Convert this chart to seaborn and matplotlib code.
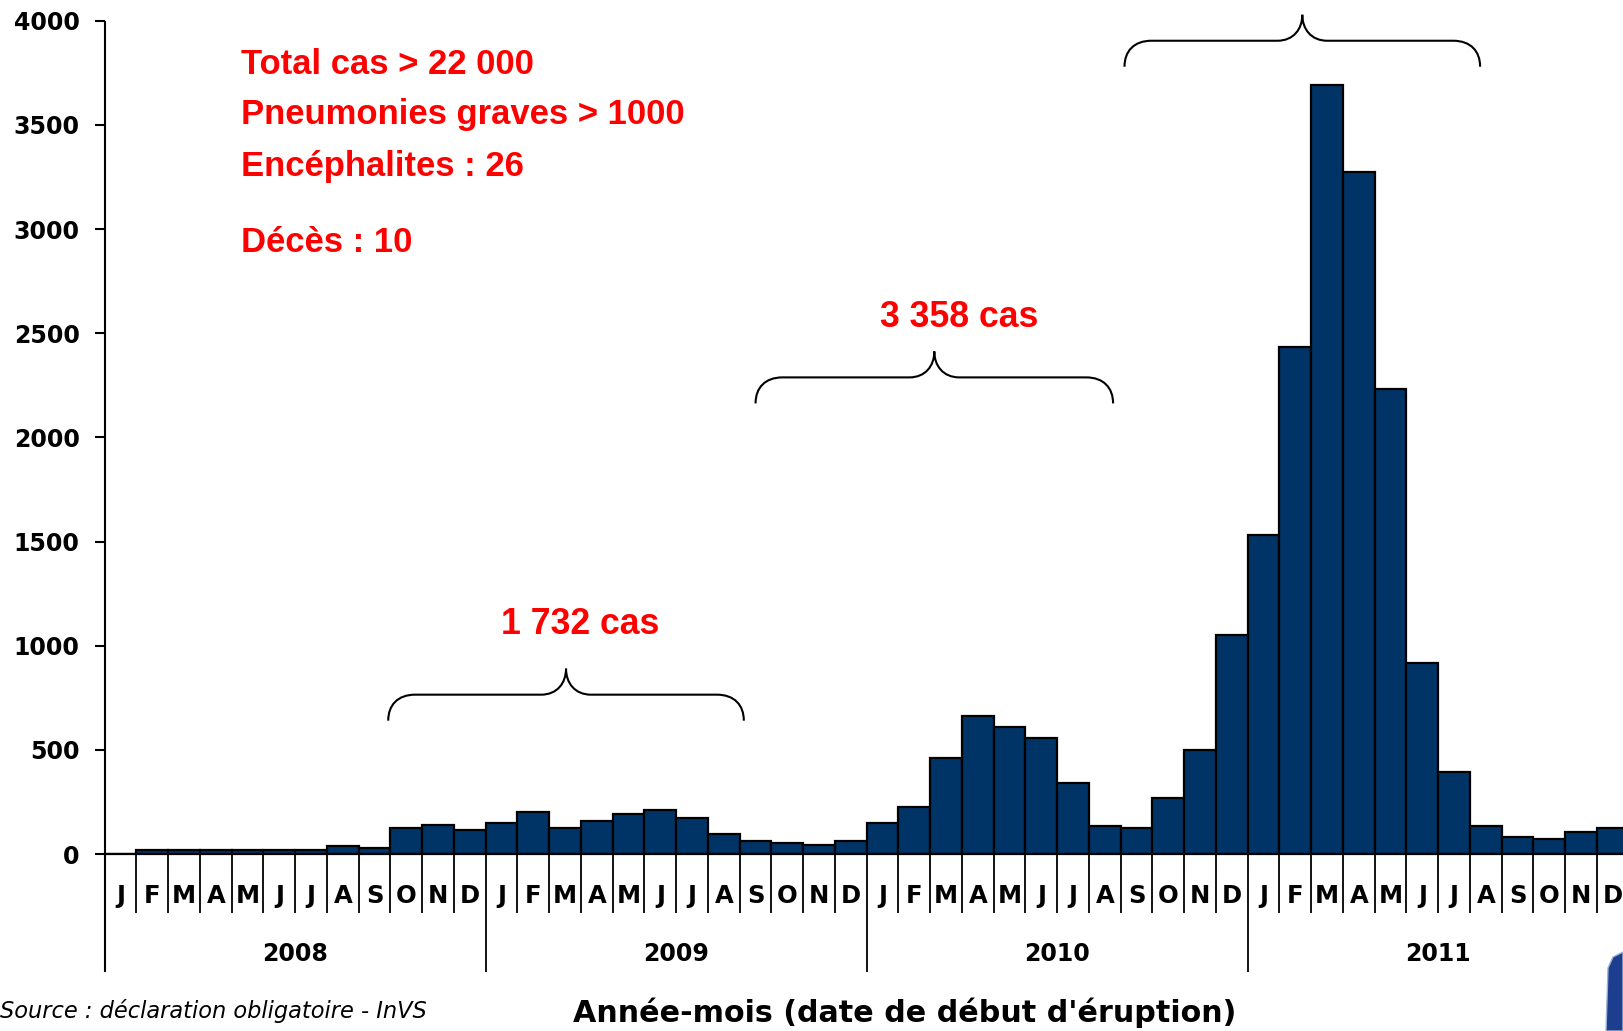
import matplotlib
matplotlib.use("Agg")
import matplotlib.pyplot as plt
from matplotlib.path import Path
from matplotlib.patches import PathPatch, Polygon
from matplotlib import font_manager
import pandas as pd
import seaborn as sns

# Monthly measles case counts by month of rash onset, Jan 2008 - Dec 2011
years = ["2008", "2009", "2010", "2011"]
month_letters = ["J", "F", "M", "A", "M", "J", "J", "A", "S", "O", "N", "D"]
cases_2008 = [0, 20, 20, 20, 20, 20, 20, 40, 30, 126, 138, 115]
cases_2009 = [149, 200, 126, 158, 190, 213, 171, 96, 62, 51, 42, 62]
cases_2010 = [149, 224, 459, 662, 610, 555, 340, 136, 126, 267, 501, 1049]
cases_2011 = [1533, 2434, 3690, 3273, 2232, 915, 395, 136, 83, 72, 104, 126]

y_ticks = [0, 500, 1000, 1500, 2000, 2500, 3000, 3500, 4000]
summary_lines = ["Total cas > 22 000", "Pneumonies graves > 1000",
                 "Encéphalites : 26", "Décès : 10"]
wave_labels = ["1 732 cas", "3 358 cas"]
x_title = "Année-mois (date de début d'éruption)"
source_note = "Source : déclaration obligatoire - InVS"

all_cases = cases_2008 + cases_2009 + cases_2010 + cases_2011
df = pd.DataFrame({
    "mois": [f"{y}-{m:02d}" for y in years for m in range(1, 13)],
    "lettre": month_letters * len(years),
    "cas": all_cases,
})

sns.set_theme(style="white")
plt.rcParams["font.family"] = ["DejaVu Sans"]

installed = {f.name for f in font_manager.fontManager.ttflist}
red_family = (["Liberation Sans Narrow", "DejaVu Sans"]
              if "Liberation Sans Narrow" in installed
              else ["Liberation Sans", "DejaVu Sans"])

W, H = 1623, 1031
fig = plt.figure(figsize=(W / 100, H / 100), dpi=100)
x0, y_base, y_top = 104.7, 854.0, 20.7
ax = fig.add_axes([x0 / W, (H - y_base) / H, 1 - x0 / W, (y_base - y_top) / H])

sns.barplot(data=df, x="mois", y="cas", color="#003366", saturation=1,
            edgecolor="black", linewidth=1.6, width=1.0, ax=ax)

n = len(df)
month_px = 31.75
ax.set_xlim(-0.5, -0.5 + (W - x0) / month_px)
ax.set_ylim(0, 4000)
ax.set_xticks([])
ax.set_xlabel("")
ax.set_ylabel("")
ax.set_yticks(y_ticks)
ax.set_yticklabels([str(v) for v in y_ticks], fontsize=17, fontweight="bold",
                   color="black")
ax.tick_params(axis="y", direction="out", length=7.5, width=1.5,
               color="black", pad=10.5, left=True)
for s in ["top", "right", "left"]:
    ax.spines[s].set_visible(False)
ax.spines["bottom"].set_linewidth(1.6)
ax.spines["bottom"].set_color("black")
ax.grid(False)

ax_h = y_base - y_top


def frac(py):
    return (y_base - py) / ax_h


xt = ax.get_xaxis_transform()

# vertical axis line, extended down through the month/year grid
ax.plot([-0.5, -0.5], [frac(972), 1.0], transform=xt, color="black",
        lw=1.5, clip_on=False, solid_capstyle="butt")

# month separators and letters
for i in range(1, n + 1):
    long_tick = (i % 12 == 0)
    bottom = frac(972) if long_tick else frac(913)
    ax.plot([i - 0.5, i - 0.5], [0, bottom], transform=xt, color="black",
            lw=1.3, clip_on=False, solid_capstyle="butt")
for i, letter in enumerate(df["lettre"]):
    ax.text(i, frac(896), letter, transform=xt, ha="center", va="center",
            fontsize=17.5, fontweight="bold", color="black", clip_on=False)

# year labels
for k, yr in enumerate(years):
    ax.text(12 * k + 5.5, frac(954), yr, transform=xt, ha="center",
            va="center", fontsize=17, fontweight="bold", color="black",
            clip_on=False)


def brace(cx, half_w, base, color="black"):
    """Curly brace pointing upward, drawn in data coordinates."""
    r = 27 / month_px
    m = 25 / month_px
    hm = 26 / ax_h * 4000
    ht = 52 / ax_h * 4000
    verts = [
        (cx - half_w, base),
        (cx - half_w, base + hm * 0.6), (cx - half_w + r * 0.35, base + hm),
        (cx - half_w + r, base + hm),
        (cx - m, base + hm),
        (cx - m * 0.35, base + hm), (cx, base + hm + (ht - hm) * 0.45),
        (cx, base + ht),
        (cx, base + hm + (ht - hm) * 0.45), (cx + m * 0.35, base + hm),
        (cx + m, base + hm),
        (cx + half_w - r, base + hm),
        (cx + half_w - r * 0.35, base + hm), (cx + half_w, base + hm * 0.6),
        (cx + half_w, base),
    ]
    codes = [Path.MOVETO,
             Path.CURVE4, Path.CURVE4, Path.CURVE4,
             Path.LINETO,
             Path.CURVE4, Path.CURVE4, Path.CURVE4,
             Path.CURVE4, Path.CURVE4, Path.CURVE4,
             Path.LINETO,
             Path.CURVE4, Path.CURVE4, Path.CURVE4]
    ax.add_patch(PathPatch(Path(verts, codes), fill=False, edgecolor=color,
                           lw=1.5, clip_on=False, capstyle="butt"))


brace(14.03, 5.6, 640)
brace(25.63, 5.63, 2163)
brace(37.22, 5.6, 3779)

red = "#FF0000"
renderer = fig.canvas.get_renderer()


def fpx(px, py):
    return px / W, (H - py) / H


def fit_width(txt, target_px):
    """Rescale a text's font size so that it spans target_px pixels."""
    w = txt.get_window_extent(renderer=renderer).width
    txt.set_fontsize(txt.get_fontsize() * target_px / w)
    return txt


for label, (cx, base) in zip(wave_labels, [(580, 633.5), (958.7, 327)]):
    t = fig.text(*fpx(cx, base), label, ha="center", va="baseline",
                 color=red, fontweight="bold", family=red_family, size=26)
    fit_width(t, 158)

summary_texts = []
for line, base in zip(summary_lines, [74, 124, 175.7, 252.3]):
    summary_texts.append(
        fig.text(*fpx(241, base), line, ha="left", va="baseline", color=red,
                 fontweight="bold", family=red_family, size=25.5))
w_ref = summary_texts[1].get_window_extent(renderer=renderer).width
scale = 444 / w_ref
for t in summary_texts:
    t.set_fontsize(t.get_fontsize() * scale)

title = fig.text(*fpx(904.5, 1013), x_title, ha="center", va="center",
                 fontsize=21, fontweight="bold", color="black")
fit_width(title, 662)
src = fig.text(*fpx(0, 1011), source_note, ha="left", va="center",
               fontsize=16, style="italic", color="black")
fit_width(src, 428)

# edge of the agency logo, cut by the right border
fig.patches.append(Polygon(
    [fpx(1606, 1031), fpx(1608, 968), fpx(1613, 957), fpx(1623, 952),
     fpx(1623, 1031)], closed=True, transform=fig.transFigure,
    facecolor="#1d3d8f", edgecolor="#9fb3d9", lw=1.0))

fig.savefig("out.png", dpi=100, facecolor="white")
